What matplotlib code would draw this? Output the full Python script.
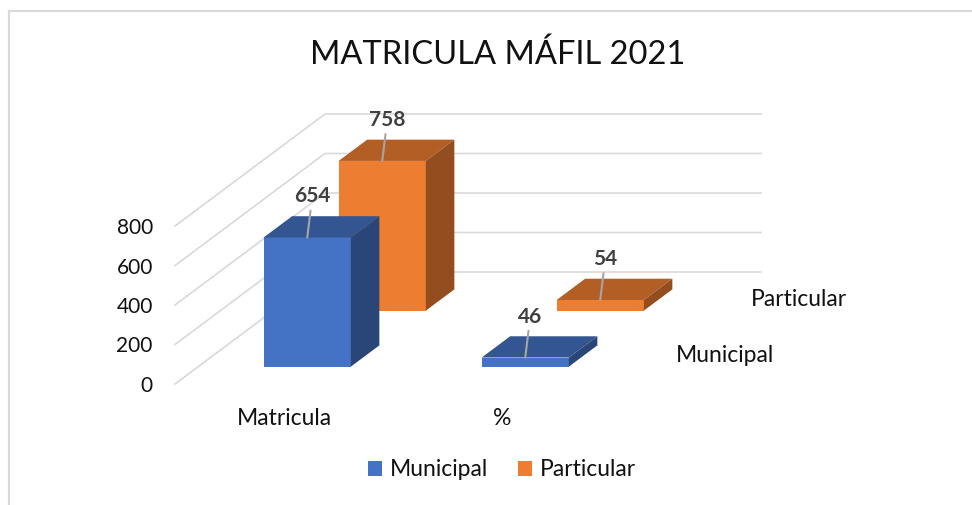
import matplotlib
matplotlib.use('Agg')
import matplotlib.pyplot as plt
from matplotlib.patches import Polygon, Patch
from matplotlib.lines import Line2D

# ---------------- data ----------------
title = 'MATRICULA MÁFIL 2021'
categories = ['Matricula', '%']
series = ['Municipal', 'Particular']
municipal = [654, 46]
particular = [758, 54]
yticks = [0, 200, 400, 600, 800]

# ---------------- style ----------------
front_colors = ['#4472C4', '#ED7D31']
top_colors = ['#335693', '#B25E25']
side_colors = ['#2A4679', '#934D1E']
grid_color = '#D9D9D9'
text_color = '#111111'
label_color = '#404040'

plt.rcParams['font.family'] = ['Lato', 'DejaVu Sans']

W, H = 972, 505
fig = plt.figure(figsize=(W / 100, H / 100), dpi=100)

# axes = front plane of the 3D box (pixel placement)
px0, px1 = 175, 611      # x of category axis start/end
py0, py1 = 384, 226      # y (from top) of value 0 and 800
ax = fig.add_axes([px0 / W, (H - py0) / H, (px1 - px0) / W, (py0 - py1) / H])
ax.set_xlim(0, len(categories))
ax.set_ylim(yticks[0], yticks[-1])
ax.patch.set_visible(False)
for sp in ax.spines.values():
    sp.set_visible(False)

# oblique depth: one series row = 75 px right, 56 px up
px_per_x = (px1 - px0) / len(categories)
px_per_v = (py0 - py1) / (yticks[-1] - yticks[0])
DX = 75 / px_per_x
DY = 56 / px_per_v
nrows = len(series)
BW = 0.4     # bar width (category units)
BD = 0.38    # bar depth (row units)

# walls gridlines
for v in yticks:
    ax.plot([0, nrows * DX, len(categories) + nrows * DX],
            [v, v + nrows * DY, v + nrows * DY],
            color=grid_color, lw=1.2, clip_on=False, zorder=0)

values = [municipal, particular]

def bar3d(i, s, v):
    d0 = s + 0.5 - BD / 2
    ox, oy = d0 * DX, d0 * DY
    ex, ey = BD * DX, BD * DY
    cx = i + 0.5 + ox
    left, right = cx - BW / 2, cx + BW / 2
    z = 10 - 3 * s
    ax.bar(cx, v, width=BW, bottom=oy, color=front_colors[s],
           zorder=z, clip_on=False, linewidth=0)
    ax.add_patch(Polygon([(left, oy + v), (right, oy + v),
                          (right + ex, oy + v + ey), (left + ex, oy + v + ey)],
                         closed=True, facecolor=top_colors[s], lw=0,
                         zorder=z, clip_on=False))
    ax.add_patch(Polygon([(right, oy), (right + ex, oy + ey),
                          (right + ex, oy + v + ey), (right, oy + v)],
                         closed=True, facecolor=side_colors[s], lw=0,
                         zorder=z, clip_on=False))
    ax.annotate(str(v), xy=(cx, oy + v), xytext=(5, 41),
                textcoords='offset pixels', ha='center', va='center',
                fontsize=15, fontweight='bold', color=label_color,
                zorder=20, annotation_clip=False,
                arrowprops=dict(arrowstyle='-', color='#A6A6A6', lw=1.5,
                                shrinkA=1, shrinkB=0))

for s in reversed(range(nrows)):
    for i in range(len(categories)):
        bar3d(i, s, values[s][i])

# series (depth axis) labels
for s, name in enumerate(series):
    ax.annotate(name, xy=(len(categories) + (s + 0.5) * DX, (s + 0.5) * DY),
                xytext=(27, 0), textcoords='offset pixels', ha='left',
                va='center', fontsize=16.5, color=text_color,
                annotation_clip=False)

ax.set_xticks([i + 0.5 for i in range(len(categories))], categories)
ax.set_yticks(yticks, [str(t) for t in yticks])
ax.tick_params(axis='both', length=0, labelcolor=text_color)
ax.tick_params(axis='y', pad=16, labelsize=15)
ax.tick_params(axis='x', pad=17, labelsize=16.5)

fig.text(498 / W, 1 - 55 / H, title, ha='center', va='center',
         fontsize=23.5, color=text_color)

handles = [Patch(facecolor=front_colors[s], label=series[s]) for s in range(nrows)]
fig.legend(handles=handles, loc='center', bbox_to_anchor=(502 / W, 1 - 470 / H),
           ncol=2, frameon=False, fontsize=16.5, handlelength=0.6,
           handleheight=0.6, handletextpad=0.35, columnspacing=1.3,
           labelcolor=text_color)

# chart border (partially cropped)
fig.add_artist(Line2D([8.5 / W, 8.5 / W], [0, 1 - 10.5 / H],
                      transform=fig.transFigure, color=grid_color, lw=1.5))
fig.add_artist(Line2D([8.5 / W, 1], [1 - 10.5 / H, 1 - 10.5 / H],
                      transform=fig.transFigure, color=grid_color, lw=1.5))

fig.savefig('out.png', dpi=100)
